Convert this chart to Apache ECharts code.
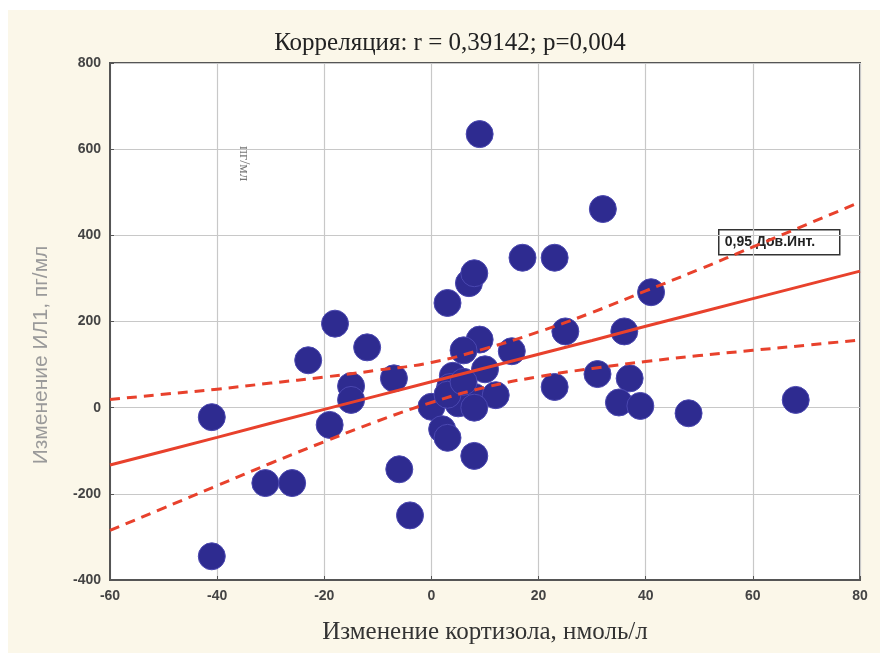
<!DOCTYPE html>
<html><head><meta charset="utf-8">
<script src="https://cdn.jsdelivr.net/npm/echarts@6/dist/echarts.min.js"></script>
<style>html,body{margin:0;padding:0;background:#fbf7e9;}#c{width:880px;height:653px;}</style>
</head><body><div id="c"></div>
<script>
const titleText = 'Корреляция: r = 0,39142; p=0,004';
const xName = 'Изменение кортизола, нмоль/л';
const yName = 'Изменение ИЛ1, пг/мл';
const unitText = 'пг/мл';
const legendText = '0,95 Дов.Инт.';
const xTicks = {min: -60, max: 80, step: 20};
const yTicks = {min: -400, max: 800, step: 200};

const cortisolX = [-41, -41, -31, -26, -23, -18, -19, -15, -15, -12, -7, -6, -4, 0, 2, 3, 3, 7, 8, 9, 17, 23, 32, 41, 25, 36, 15, 31, 37, 23, 35, 39, 48, 68, 9, 6, 10, 4, 3.5, 8, 12, 5, 8, 8, 3, 6];
const il1Y =       [-22, -345, -175, -175, 110, 195, -40, 50, 18, 140, 68, -143, -250, 2, -50, -70, 243, 289, 312, 635, 348, 348, 461, 268, 177, 177, 131, 78, 68, 48, 12, 4, -13, 18, 158, 133, 89, 74, 48, 25, 29, 10, 0, -112, 30, 60];

const lineX =  [-60, -50, -40, -30, -20, -10, 0, 10, 20, 30, 40, 50, 60, 70, 80];
const fitY =   [-133, -101, -69, -36, -4, 28, 60, 92, 124, 156, 189, 221, 253, 285, 317];
const upperY = [19, 31, 43, 57, 71, 87, 105, 137, 176, 221, 271, 321, 373, 425, 477];
const lowerY = [-285, -233, -181, -129, -79, -31, 12, 47, 72, 91, 107, 121, 133, 145, 157];

const pts = cortisolX.map((x, i) => [x, il1Y[i]]);
const pair = ys => lineX.map((x, i) => [x, ys[i]]);

const chart = echarts.init(document.getElementById('c'));
const red = '#e8412c';
chart.setOption({
  backgroundColor: '#fbf7e9',
  animation: false,
  title: {text: titleText, left: 445, textAlign: 'center', top: 26,
    textStyle: {fontFamily: 'Liberation Serif', fontWeight: 'normal', fontSize: 25, color: '#222'}},
  grid: {left: 110, right: 20, top: 63, bottom: 73, show: true, backgroundColor: '#ffffff', borderColor: '#555', borderWidth: 2},
  xAxis: {type: 'value', min: xTicks.min, max: xTicks.max, interval: xTicks.step,
    name: xName, nameLocation: 'middle', nameGap: 40,
    nameTextStyle: {fontFamily: 'Liberation Serif', fontSize: 25, color: '#333'},
    axisLine: {show: true, onZero: false, lineStyle: {color: '#555', width: 2}},
    axisTick: {show: true, inside: true, length: 4, lineStyle: {color: '#555'}},
    axisLabel: {fontFamily: 'Liberation Sans', fontWeight: 'bold', fontSize: 14, color: '#444', margin: 9},
    splitLine: {show: true, lineStyle: {color: '#c8c8c8', width: 1.2}}},
  yAxis: {type: 'value', min: yTicks.min, max: yTicks.max, interval: yTicks.step,
    axisLine: {show: true, onZero: false, lineStyle: {color: '#555', width: 2}},
    axisTick: {show: true, inside: true, length: 4, lineStyle: {color: '#555'}},
    axisLabel: {fontFamily: 'Liberation Sans', fontWeight: 'bold', fontSize: 14, color: '#444', margin: 9},
    splitLine: {show: true, lineStyle: {color: '#c8c8c8', width: 1.2}}},
  graphic: [
    {type: 'rect', left: 0, top: 0, shape: {width: 880, height: 10}, style: {fill: '#ffffff'}},
    {type: 'rect', left: 0, top: 0, shape: {width: 8, height: 653}, style: {fill: '#ffffff'}},
    {type: 'text', x: 41, y: 355, rotation: Math.PI / 2,
      style: {text: yName, font: '21px "Liberation Sans"', fill: '#9a9a9a', textAlign: 'center', textVerticalAlign: 'middle'}},
    {type: 'text', left: 236, top: 146, rotation: -Math.PI / 2,
      style: {text: unitText, font: '15px "Liberation Serif"', fill: '#777'}},
    {type: 'group', left: 718, top: 229, children: [
      {type: 'rect', shape: {x: 0, y: 0, width: 121, height: 25}, style: {fill: '#fff', stroke: '#333', lineWidth: 1.5}},
      {type: 'text', left: 6, top: 5, style: {text: legendText, font: 'bold 14px "Liberation Sans"', fill: '#222'}}
    ]}
  ],
  series: [
    {type: 'scatter', data: pts, symbolSize: 27, z: 2,
      itemStyle: {color: '#2e2b90', borderColor: '#4a47b0', borderWidth: 1, opacity: 1}},
    {type: 'line', data: pair(fitY), showSymbol: false, z: 3, lineStyle: {color: red, width: 3}},
    {type: 'line', data: pair(upperY), showSymbol: false, smooth: true, z: 3, lineStyle: {color: red, width: 3, type: [10, 7]}},
    {type: 'line', data: pair(lowerY), showSymbol: false, smooth: true, z: 3, lineStyle: {color: red, width: 3, type: [10, 7]}}
  ]
});
</script></body></html>
